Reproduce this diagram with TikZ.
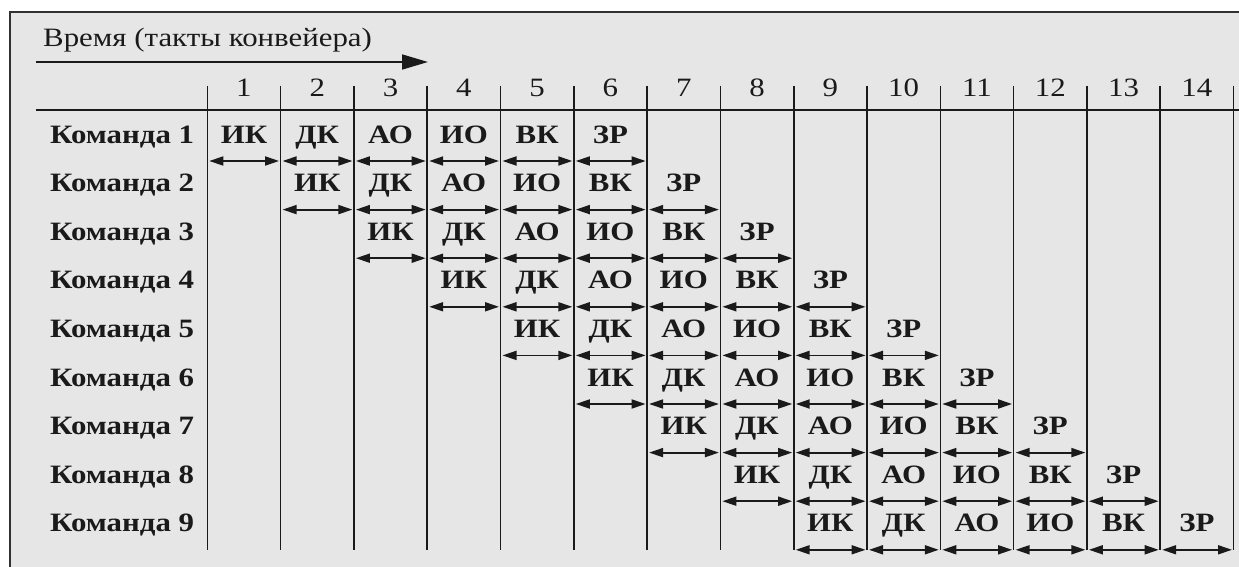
\documentclass[tikz,border=0pt]{standalone}
\usepackage{fontspec}
\setmainfont{Liberation Serif}[FakeStretch=1.165]
\usetikzlibrary{arrows.meta}
\definecolor{bgc}{HTML}{E6E6E6}
\definecolor{ink}{HTML}{1A1A1A}
\begin{document}
\begin{tikzpicture}[x=1pt,y=-1pt,
  txt/.style={font=\fontsize{26.5}{30}\selectfont, text=ink, inner sep=0pt},
  rowlbl/.style={txt, font=\fontsize{26.5}{30}\selectfont\bfseries},
  cell/.style={txt, font=\fontsize{26.5}{30}\selectfont\bfseries},
  num/.style={txt},
  divline/.style={draw=ink, line width=1.6pt},
  hline/.style={draw=ink, line width=1.5pt},
  frame/.style={draw=ink!90, line width=1.6pt},
  dbl/.style={draw=ink, line width=1.8pt, {Triangle[length=14pt,width=9pt]}-{Triangle[length=14pt,width=9pt]}},
  timearrow/.style={draw=ink, line width=1.6pt, -{Triangle[length=26pt,width=15pt]}}]
\useasboundingbox (0,0) rectangle (1239,567);
\fill[white] (0,0) rectangle (1239,567);
\fill[bgc] (10,12) rectangle (1239,567);
\draw[frame] (10,568) -- (10,12) -- (1240,12);
% time axis
\node[txt, anchor=base west] (time) at (43,47) {Время (такты конвейера)};
\coordinate (ts) at (36,62);
\coordinate (te) at (428,62);
\draw[timearrow] (ts) -- (te);
% header line
\coordinate (hl) at (36,110);
\coordinate (hr) at (1240,110);
\draw[hline] (hl) -- (hr);
% column dividers
\foreach \k in {0,...,14} {
  \pgfmathsetmacro\xk{207.3+73.3*\k}
  \coordinate (t-\k) at (\xk,86);
  \coordinate (b-\k) at (\xk,550);
  \draw[divline] (t-\k) -- (b-\k);
}
% column numbers
\foreach \k in {1,...,14} {
  \pgfmathsetmacro\xc{207.3+73.3*\k-36.65}
  \node[num, anchor=base] (n-\k) at (\xc,97) {\k};
}
% rows
\foreach \i in {1,...,9} {
  \pgfmathsetmacro\yb{143+48.6*(\i-1)}
  \pgfmathsetmacro\ya{\yb+18}
  \node[rowlbl, anchor=base west] (r-\i) at (50,\yb) {Команда \i};
  \foreach \s [count=\j] in {ИК,ДК,АО,ИО,ВК,ЗР} {
    \pgfmathtruncatemacro\col{\i+\j-1}
    \pgfmathsetmacro\xc{207.3+73.3*\col-36.65}
    \pgfmathsetmacro\xl{207.3+73.3*(\col-1)+2}
    \pgfmathsetmacro\xr{207.3+73.3*\col-1.5}
    \node[cell, anchor=base] (c-\i-\j) at (\xc,\yb) {\s};
    \coordinate (al-\i-\j) at (\xl,\ya);
    \coordinate (ar-\i-\j) at (\xr,\ya);
    \draw[dbl] (al-\i-\j) -- (ar-\i-\j);
  }
}
\end{tikzpicture}
\end{document}
